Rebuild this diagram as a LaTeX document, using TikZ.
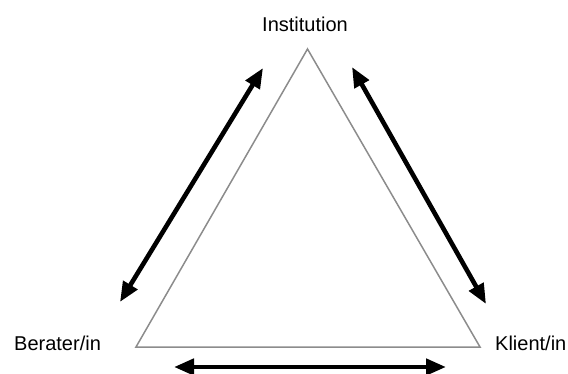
\documentclass[tikz,border=0pt]{standalone}
\usepackage{fontspec}
\setmainfont{Liberation Sans}
\usetikzlibrary{arrows.meta}
\begin{document}
\begin{tikzpicture}[x=1pt,y=-1pt,
  lbl/.style={inner sep=0pt,font=\fontsize{20}{24}\selectfont,text=black},
  tri/.style={draw=black!45,line width=1.5pt,line join=miter},
  dbl/.style={line width=4.6pt,{Triangle[length=20pt,width=16pt]}-{Triangle[length=20pt,width=16pt]}}]
\useasboundingbox (0,0) rectangle (568,374);
\node[lbl,anchor=base] (inst) at (305,32) {Institution};
\node[lbl,anchor=base west] (ber) at (14,350) {Berater/in};
\node[lbl,anchor=base west] (kli) at (495,350) {Klient/in};
\coordinate (A) at (307.5,49);
\coordinate (B) at (136,347);
\coordinate (C) at (480,347);
\draw[tri] (A) -- (B) -- (C) -- cycle;
\coordinate (l1) at (263,68);
\coordinate (l2) at (120,302);
\coordinate (r1) at (352,67);
\coordinate (r2) at (486,304);
\coordinate (b1) at (174,367);
\coordinate (b2) at (446,367);
\draw[dbl] (l1) -- (l2);
\draw[dbl] (r1) -- (r2);
\draw[dbl] (b1) -- (b2);
\end{tikzpicture}
\end{document}
